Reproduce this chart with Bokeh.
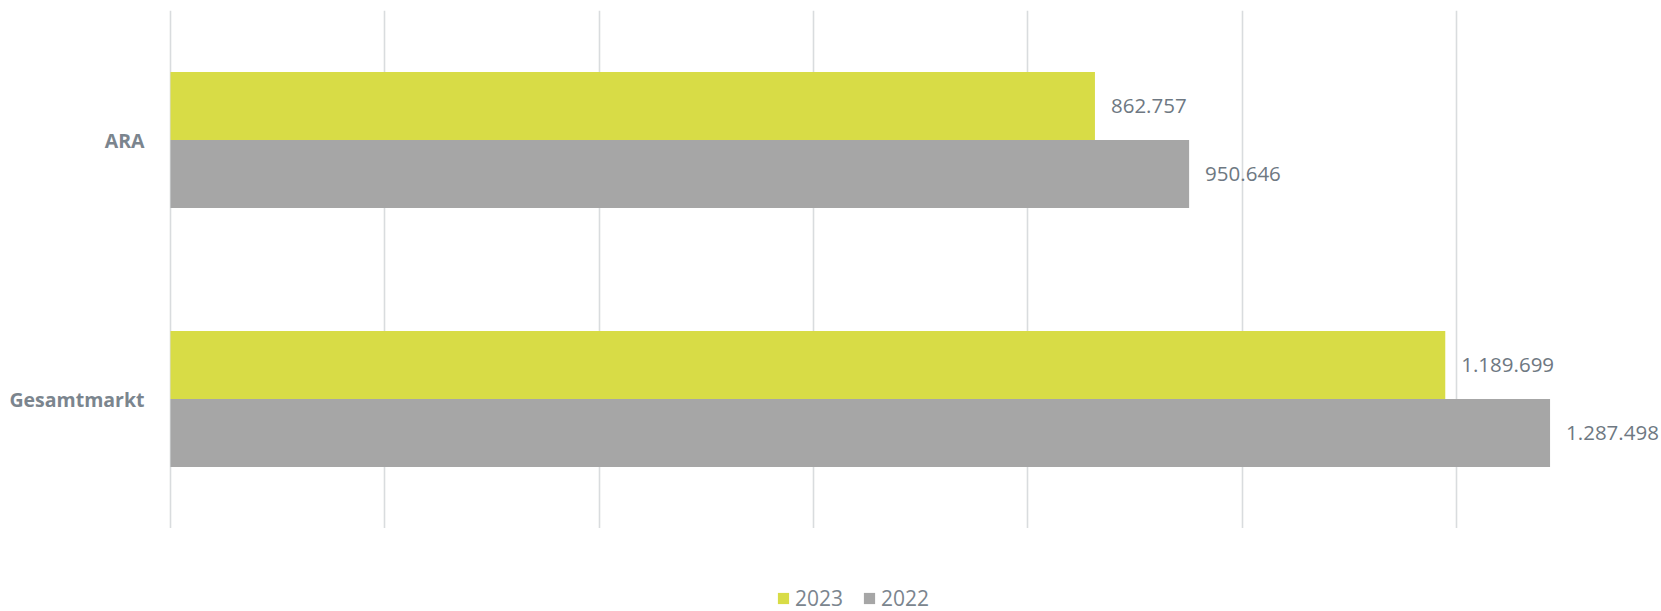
from bokeh.plotting import figure
from bokeh.layouts import column
from bokeh.models import (FactorRange, Range1d, ColumnDataSource, LabelSet, Legend,
                          LegendItem, FixedTicker)
from bokeh.core.properties import value
from bokeh.transform import dodge
from bokeh.embed import file_html
from bokeh.resources import INLINE

categories = ["Gesamtmarkt", "ARA"]
values_2023 = [1189699, 862757]
values_2022 = [1287498, 950646]
labels_2023 = ["1.189.699", "862.757"]
labels_2022 = ["1.287.498", "950.646"]
series_names = ["2023", "2022"]
x_ticks = [0, 200000, 400000, 600000, 800000, 1000000, 1200000]

COL_2023 = "#d8dc46"
COL_2022 = "#a6a6a6"
TEXT_COL = "#7b858e"
VAL_COL = "#6e7882"
FONT = "Open Sans"
W = 1661
LEFT = 168

src = ColumnDataSource(dict(cat=categories, v2023=values_2023, v2022=values_2022,
                            l2023=labels_2023, l2022=labels_2022))

p = figure(width=W, height=528,
           y_range=FactorRange(factors=categories, range_padding=0),
           x_range=Range1d(-1870, 1391500),
           output_backend="svg", toolbar_location=None,
           min_border_left=LEFT, min_border_right=0, min_border_top=10,
           min_border_bottom=0)

bar_h = 0.2625
off = bar_h / 2

r1 = p.hbar(y=dodge("cat", off, range=p.y_range), left=0, right="v2023", height=bar_h,
            source=src, fill_color=COL_2023, line_color=None)
r2 = p.hbar(y=dodge("cat", -off, range=p.y_range), left=0, right="v2022", height=bar_h,
            source=src, fill_color=COL_2022, line_color=None)

for xcol, tcol, d in (("v2023", "l2023", off), ("v2022", "l2022", -off)):
    p.add_layout(LabelSet(x=xcol, y=dodge("cat", d, range=p.y_range), text=tcol,
                          source=src, x_offset=16, text_baseline="middle",
                          text_align="left", text_font=value(FONT),
                          text_font_size=value("20.5px"), text_color=VAL_COL))

p.xaxis.visible = False
p.xgrid.ticker = FixedTicker(ticks=x_ticks)
p.xgrid.grid_line_color = "#d9dcde"
p.xgrid.grid_line_width = 1.6
p.ygrid.grid_line_color = None
p.outline_line_color = None

p.yaxis.axis_line_color = None
p.yaxis.major_tick_line_color = None
p.yaxis.minor_tick_line_color = None
p.yaxis.major_tick_out = 0
p.yaxis.major_tick_in = 0
p.yaxis.major_label_standoff = 24
p.yaxis.major_label_text_font = FONT
p.yaxis.major_label_text_font_size = "19.5px"
p.yaxis.major_label_text_font_style = "bold"
p.yaxis.major_label_text_color = TEXT_COL

# legend strip below the chart (its frame is aligned with the chart's frame)
lf = figure(width=W, height=83, x_range=Range1d(0, 1), y_range=Range1d(0, 1),
            output_backend="svg", toolbar_location=None,
            x_axis_location=None, y_axis_location=None,
            min_border_left=LEFT, min_border_right=0, min_border_top=0, min_border_bottom=0)
lf.grid.grid_line_color = None
lf.outline_line_color = None
# placeholder marks outside the visible range, only used as legend swatches
leg_src = ColumnDataSource(dict(y=[5], right=[5]))
lr1 = lf.hbar(y="y", left=4, right="right", height=0.1, source=leg_src,
              fill_color=COL_2023, line_color=None)
lr2 = lf.hbar(y="y", left=4, right="right", height=0.1, source=leg_src,
              fill_color=COL_2022, line_color=None)
legend = Legend(items=[LegendItem(label=series_names[0], renderers=[lr1]),
                       LegendItem(label=series_names[1], renderers=[lr2])],
                orientation="horizontal", location=(776 - LEFT, -1),
                glyph_width=14, glyph_height=14, label_standoff=5, spacing=19,
                padding=0, margin=0, border_line_color=None,
                background_fill_alpha=0,
                label_text_font=FONT, label_text_font_size="21px",
                label_text_color=TEXT_COL)
lf.add_layout(legend, "center")

layout = column(p, lf, spacing=0)
open("out.html", "w").write(file_html(layout, INLINE))
